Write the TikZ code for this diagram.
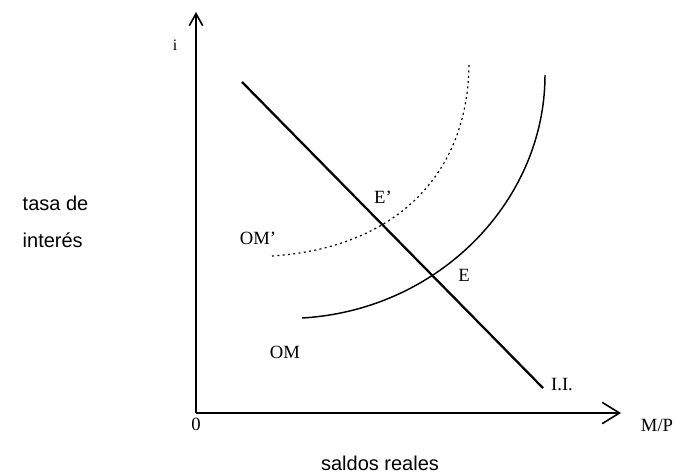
\documentclass[tikz,border=0pt]{standalone}
\usepackage{fontspec}
\setmainfont{Liberation Serif}
\setsansfont{Liberation Sans}
\usetikzlibrary{arrows.meta,positioning}

\begin{document}
\begin{tikzpicture}[x=0.75pt,y=-0.75pt,font=\fontsize{14}{16}\selectfont,
  lbl/.style={font=\sffamily\fontsize{15}{17}\selectfont}]
\useasboundingbox (0,0) rectangle (677,474);
\coordinate (o) at (196,413);
\coordinate (ytip) at (196,12);
\coordinate (xtip) at (621,413);
\draw[line width=1.2pt,-{Straight Barb[length=9pt,width=10pt]}] (o)--(ytip);
\draw[line width=1.2pt,-{Straight Barb[length=13pt,width=16pt]}] (o)--(xtip);
\node (mp) at (657,425) {M/P};
\node (cero) at (196,424) {0};
\node (i) at (175,45) {\fontsize{12}{14}\selectfont i};
\node[lbl,anchor=west] (tasa) at (18,203) {tasa de};
\node[lbl,anchor=west] (interes) at (18,240) {interés};
\node[lbl] (saldos) at (380,463) {saldos reales};
% curva OM'
\coordinate (omp0) at (272,256);
\coordinate (omp1) at (469,62);
\draw[line width=0.9pt,dash pattern=on 1.5pt off 2.5pt] (omp0) .. controls (395,248) and (469,175) .. (omp1);
% curva OM
\coordinate (om0) at (302,318);
\coordinate (om1) at (545,75);
\draw[line width=1.1pt] (om0) .. controls (440,310) and (545,200) .. (om1);
% recta I.I.
\coordinate (ila) at (242,82);
\coordinate (ilb) at (543,388);
\draw[line width=1.7pt] (ila)--(ilb);
\node (il) at (562,385) {I.I.};
\node (omplbl) at (258,238) {OM'};
\node (omlbl) at (285,352) {OM};
\node (ep) at (383,197) {E'};
\node (e) at (464,275) {E};
\end{tikzpicture}
\end{document}
